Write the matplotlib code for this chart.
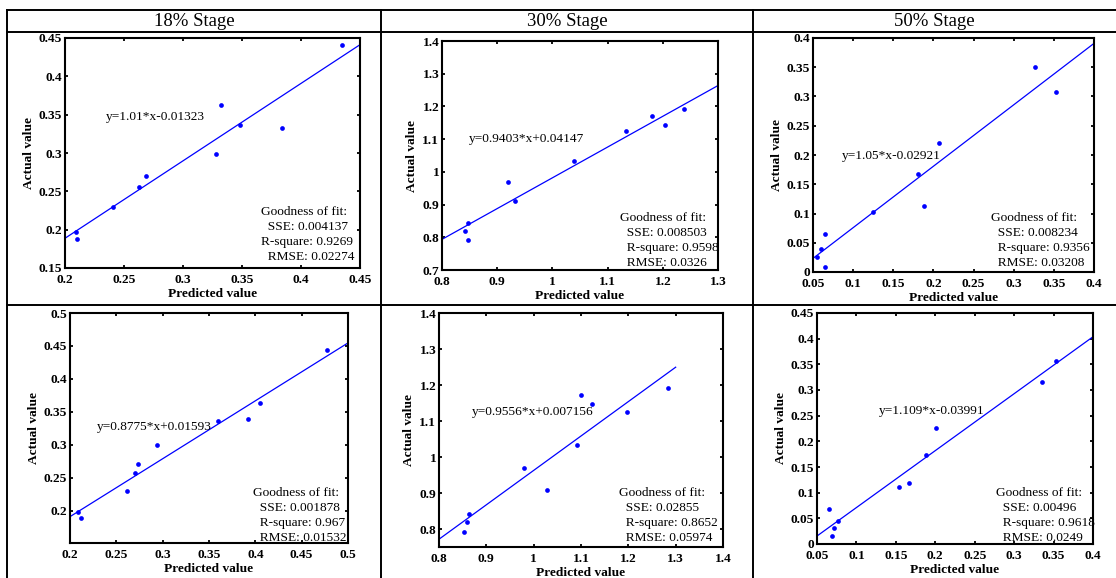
import matplotlib
matplotlib.use("Agg")
import matplotlib.pyplot as plt
from matplotlib.lines import Line2D
from matplotlib.ticker import FuncFormatter
import numpy as np

plt.rcParams["font.family"] = ["Liberation Serif", "DejaVu Serif"]

# ---- data -------------------------------------------------------------
stage_titles = ["18% Stage", "30% Stage", "50% Stage"]

# top row
pred_18a = [0.209, 0.210, 0.241, 0.263, 0.269, 0.328, 0.332, 0.348, 0.384, 0.435]
act_18a = [0.197, 0.188, 0.229, 0.256, 0.270, 0.299, 0.362, 0.337, 0.333, 0.441]
pred_30a = [0.842, 0.848, 0.847, 0.919, 0.933, 1.040, 1.133, 1.180, 1.204, 1.239]
act_30a = [0.820, 0.845, 0.792, 0.968, 0.911, 1.033, 1.124, 1.172, 1.142, 1.192]
pred_50a = [0.0554, 0.060, 0.065, 0.0645, 0.125, 0.181, 0.188, 0.207, 0.326, 0.353]
act_50a = [0.025, 0.039, 0.065, 0.0086, 0.103, 0.167, 0.113, 0.221, 0.351, 0.308]

# bottom row
pred_18b = [0.209, 0.2115, 0.261, 0.2706, 0.273, 0.2936, 0.3599, 0.3926, 0.405, 0.477]
act_18b = [0.1985, 0.189, 0.231, 0.257, 0.2707, 0.2995, 0.3359, 0.339, 0.364, 0.444]
pred_30b = [0.852, 0.859, 0.863, 0.979, 1.029, 1.092, 1.101, 1.1225, 1.197, 1.283]
act_30b = [0.793, 0.819, 0.843, 0.969, 0.908, 1.032, 1.173, 1.146, 1.124, 1.191]
pred_50b = [0.0656, 0.069, 0.0715, 0.076, 0.154, 0.1668, 0.1877, 0.2006, 0.3347, 0.3537]
act_50b = [0.068, 0.0156, 0.031, 0.045, 0.1115, 0.119, 0.1725, 0.2257, 0.316, 0.3567]

# linear fits (slope, intercept) and fit statistics
slopes = [1.01, 0.9403, 1.05, 0.8775, 0.9556, 1.109]
intercepts = [-0.01323, 0.04147, -0.02921, 0.01593, 0.007156, -0.03991]
eq_labels = ["y=1.01*x-0.01323", "y=0.9403*x+0.04147", "y=1.05*x-0.02921",
             "y=0.8775*x+0.01593", "y=0.9556*x+0.007156", "y=1.109*x-0.03991"]
sse_labels = ["0.004137", "0.008503", "0.008234", "0.001878", "0.02855", "0.00496"]
r2_labels = ["0.9269", "0.9598", "0.9356", "0.967", "0.8652", "0.9618"]
rmse_labels = ["0.02274", "0.0326", "0.03208", "0.01532", "0.05974", "0.0249"]

fit_ranges = [(0.2, 0.45), (0.8, 1.3), (0.05, 0.4), (0.2, 0.5), (0.8, 1.3), (0.05, 0.4)]
xlims = [(0.2, 0.45), (0.8, 1.3), (0.05, 0.4), (0.2, 0.5), (0.8, 1.4), (0.05, 0.4)]
ylims = [(0.15, 0.45), (0.7, 1.4), (0.0, 0.4), (0.1515, 0.5), (0.75, 1.4), (0.0, 0.45)]
xticks = [np.arange(0.2, 0.4501, 0.05), np.arange(0.8, 1.3001, 0.1), np.arange(0.05, 0.4001, 0.05),
          np.arange(0.2, 0.5001, 0.05), np.arange(0.8, 1.4001, 0.1), np.arange(0.05, 0.4001, 0.05)]
yticks = [np.arange(0.15, 0.4501, 0.05), np.arange(0.7, 1.4001, 0.1), np.arange(0.0, 0.4001, 0.05),
          np.arange(0.2, 0.5001, 0.05), np.arange(0.8, 1.4001, 0.1), np.arange(0.0, 0.4501, 0.05)]

preds = [pred_18a, pred_30a, pred_50a, pred_18b, pred_30b, pred_50b]
acts = [act_18a, act_30a, act_50a, act_18b, act_30b, act_50b]

# ---- layout (pixels) --------------------------------------------------
W, H = 1116, 578
fig = plt.figure(figsize=(W / 100, H / 100), dpi=100)

boxes = [(65, 360, 38, 268), (442, 718, 41, 270), (813, 1094, 38, 272),
         (70, 348, 313, 543), (439, 723, 313, 547), (817, 1093, 313, 544)]
eq_pos = [(0.139, 0.657), (0.098, 0.572), (0.103, 0.496),
          (0.097, 0.504), (0.116, 0.577), (0.225, 0.576)]
gof_pos = [(0.664, 0.243), (0.645, 0.227), (0.633, 0.231),
           (0.658, 0.217), (0.634, 0.231), (0.649, 0.221)]
indent_r2 = [False, True, True, True, True, True]


def fmt(v, _pos):
    return "%g" % round(v, 4)


for i in range(6):
    l, r, t, b = boxes[i]
    ax = fig.add_axes([l / W, 1 - b / H, (r - l) / W, (b - t) / H])
    x0, x1 = fit_ranges[i]
    xs = np.array([x0, x1])
    ax.plot(xs, slopes[i] * xs + intercepts[i], color="#0000ff", lw=0.9)
    ax.plot(preds[i], acts[i], "o", color="#0000ff", ms=3.4, mew=0)
    ax.set_xlim(*xlims[i])
    ax.set_ylim(*ylims[i])
    ax.set_xticks(xticks[i])
    ax.set_yticks(yticks[i])
    ax.xaxis.set_major_formatter(FuncFormatter(fmt))
    ax.yaxis.set_major_formatter(FuncFormatter(fmt))
    ax.tick_params(direction="in", top=True, right=True, length=2.5, width=1.3,
                   labelsize=9.6)
    ax.tick_params(axis="x", pad=4)
    ax.tick_params(axis="y", pad=2)
    for lab in ax.get_xticklabels() + ax.get_yticklabels():
        lab.set_fontweight("bold")
    for s in ax.spines.values():
        s.set_linewidth(1.5)
    ax.set_xlabel("Predicted value", fontsize=9.6, fontweight="bold", labelpad=2)
    ax.set_ylabel("Actual value", fontsize=9.6, fontweight="bold", labelpad=3)

    ex, ey = eq_pos[i]
    ax.text(ex, ey, eq_labels[i], transform=ax.transAxes, fontsize=9.6,
            ha="left", va="center")
    gx, gy = gof_pos[i]
    pad = "  "
    lines = ["Goodness of fit:",
             pad + "SSE: " + sse_labels[i],
             (pad if indent_r2[i] else "") + "R-square: " + r2_labels[i],
             pad + "RMSE: " + rmse_labels[i]]
    h_px = b - t
    for k, txt in enumerate(lines):
        ax.text(gx, gy - k * 15.0 / h_px, txt, transform=ax.transAxes,
                fontsize=9.6, ha="left", va="center")

# ---- table frame and stage headers ------------------------------------
def hline(y, x0=7, x1=W):
    fig.add_artist(Line2D([x0 / W, x1 / W], [1 - y / H, 1 - y / H],
                          color="black", lw=1.4, transform=fig.transFigure))


def vline(x, y0=10, y1=H):
    fig.add_artist(Line2D([x / W, x / W], [1 - y0 / H, 1 - y1 / H],
                          color="black", lw=1.4, transform=fig.transFigure))


hline(10)
hline(32)
hline(305)
vline(7)
vline(381)
vline(753)

col_centers = [194, 567, 934]
for cx, title in zip(col_centers, stage_titles):
    fig.text(cx / W, 1 - 21 / H, title, ha="center", va="center", fontsize=13.5)

fig.savefig("out.png", dpi=100)
